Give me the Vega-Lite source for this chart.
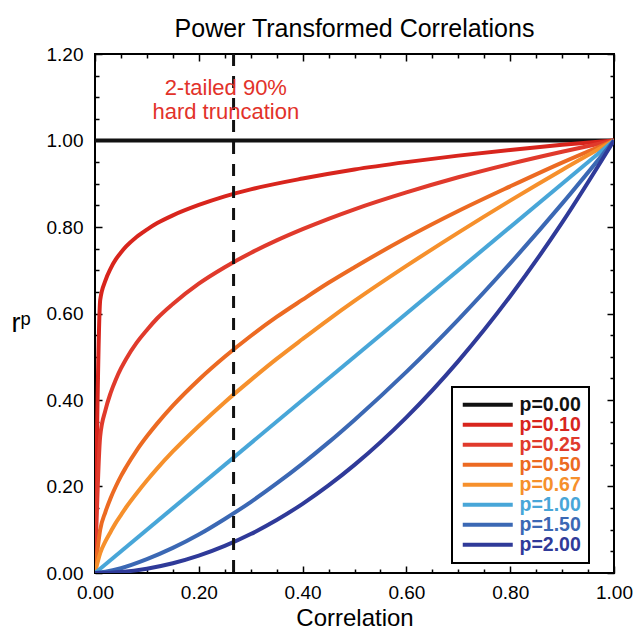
{
  "$schema": "https://vega.github.io/schema/vega-lite/v6.json",
  "width": 519,
  "height": 519,
  "autosize": "none",
  "padding": {"left": 95, "top": 54, "right": 19, "bottom": 61},
  "title": {"text": "Power Transformed Correlations", "fontSize": 25, "fontWeight": "normal", "offset": 3, "color": "black", "font": "Liberation Sans"},
  "config": {
    "font": "Liberation Sans",
    "view": {"stroke": "black", "strokeWidth": 2},
    "axis": {"grid": false, "domain": false, "labelFontSize": 19, "labelColor": "black", "tickColor": "black", "tickWidth": 1.5, "titleFontWeight": "normal", "titleColor": "black", "labelFont": "Liberation Sans", "titleFont": "Liberation Sans"}
  },
  "layer": [
    {
      "data": {"values": [
        {"p": "p=0.00", "r": 0, "v": 1}, {"p": "p=0.00", "r": 1, "v": 1},
        {"p": "p=0.10", "r": 0, "v": 0}, {"p": "p=0.10", "r": 0.01, "v": 0.631}, {"p": "p=0.10", "r": 0.02, "v": 0.676}, {"p": "p=0.10", "r": 0.03, "v": 0.704}, {"p": "p=0.10", "r": 0.04, "v": 0.725}, {"p": "p=0.10", "r": 0.05, "v": 0.741}, {"p": "p=0.10", "r": 0.06, "v": 0.755}, {"p": "p=0.10", "r": 0.08, "v": 0.777}, {"p": "p=0.10", "r": 0.1, "v": 0.794}, {"p": "p=0.10", "r": 0.12, "v": 0.809}, {"p": "p=0.10", "r": 0.15, "v": 0.827}, {"p": "p=0.10", "r": 0.2, "v": 0.851}, {"p": "p=0.10", "r": 0.25, "v": 0.871}, {"p": "p=0.10", "r": 0.3, "v": 0.887}, {"p": "p=0.10", "r": 0.4, "v": 0.912}, {"p": "p=0.10", "r": 0.5, "v": 0.933}, {"p": "p=0.10", "r": 0.6, "v": 0.950}, {"p": "p=0.10", "r": 0.7, "v": 0.965}, {"p": "p=0.10", "r": 0.8, "v": 0.978}, {"p": "p=0.10", "r": 0.9, "v": 0.990}, {"p": "p=0.10", "r": 1, "v": 1},
        {"p": "p=0.25", "r": 0, "v": 0}, {"p": "p=0.25", "r": 0.01, "v": 0.316}, {"p": "p=0.25", "r": 0.02, "v": 0.376}, {"p": "p=0.25", "r": 0.03, "v": 0.416}, {"p": "p=0.25", "r": 0.04, "v": 0.447}, {"p": "p=0.25", "r": 0.05, "v": 0.473}, {"p": "p=0.25", "r": 0.06, "v": 0.495}, {"p": "p=0.25", "r": 0.08, "v": 0.532}, {"p": "p=0.25", "r": 0.1, "v": 0.562}, {"p": "p=0.25", "r": 0.12, "v": 0.589}, {"p": "p=0.25", "r": 0.15, "v": 0.622}, {"p": "p=0.25", "r": 0.2, "v": 0.669}, {"p": "p=0.25", "r": 0.25, "v": 0.707}, {"p": "p=0.25", "r": 0.3, "v": 0.740}, {"p": "p=0.25", "r": 0.35, "v": 0.769}, {"p": "p=0.25", "r": 0.4, "v": 0.795}, {"p": "p=0.25", "r": 0.45, "v": 0.819}, {"p": "p=0.25", "r": 0.5, "v": 0.841}, {"p": "p=0.25", "r": 0.6, "v": 0.880}, {"p": "p=0.25", "r": 0.7, "v": 0.915}, {"p": "p=0.25", "r": 0.8, "v": 0.946}, {"p": "p=0.25", "r": 0.9, "v": 0.974}, {"p": "p=0.25", "r": 1, "v": 1},
        {"p": "p=0.50", "r": 0, "v": 0}, {"p": "p=0.50", "r": 0.01, "v": 0.1}, {"p": "p=0.50", "r": 0.02, "v": 0.141}, {"p": "p=0.50", "r": 0.03, "v": 0.173}, {"p": "p=0.50", "r": 0.04, "v": 0.2}, {"p": "p=0.50", "r": 0.05, "v": 0.224}, {"p": "p=0.50", "r": 0.06, "v": 0.245}, {"p": "p=0.50", "r": 0.08, "v": 0.283}, {"p": "p=0.50", "r": 0.1, "v": 0.316}, {"p": "p=0.50", "r": 0.12, "v": 0.346}, {"p": "p=0.50", "r": 0.15, "v": 0.387}, {"p": "p=0.50", "r": 0.2, "v": 0.447}, {"p": "p=0.50", "r": 0.25, "v": 0.5}, {"p": "p=0.50", "r": 0.3, "v": 0.548}, {"p": "p=0.50", "r": 0.35, "v": 0.592}, {"p": "p=0.50", "r": 0.4, "v": 0.632}, {"p": "p=0.50", "r": 0.45, "v": 0.671}, {"p": "p=0.50", "r": 0.5, "v": 0.707}, {"p": "p=0.50", "r": 0.6, "v": 0.775}, {"p": "p=0.50", "r": 0.7, "v": 0.837}, {"p": "p=0.50", "r": 0.8, "v": 0.894}, {"p": "p=0.50", "r": 0.9, "v": 0.949}, {"p": "p=0.50", "r": 1, "v": 1},
        {"p": "p=0.67", "r": 0, "v": 0}, {"p": "p=0.67", "r": 0.01, "v": 0.046}, {"p": "p=0.67", "r": 0.02, "v": 0.073}, {"p": "p=0.67", "r": 0.03, "v": 0.095}, {"p": "p=0.67", "r": 0.04, "v": 0.116}, {"p": "p=0.67", "r": 0.05, "v": 0.134}, {"p": "p=0.67", "r": 0.06, "v": 0.152}, {"p": "p=0.67", "r": 0.08, "v": 0.184}, {"p": "p=0.67", "r": 0.1, "v": 0.214}, {"p": "p=0.67", "r": 0.12, "v": 0.242}, {"p": "p=0.67", "r": 0.15, "v": 0.281}, {"p": "p=0.67", "r": 0.2, "v": 0.340}, {"p": "p=0.67", "r": 0.25, "v": 0.395}, {"p": "p=0.67", "r": 0.3, "v": 0.446}, {"p": "p=0.67", "r": 0.35, "v": 0.495}, {"p": "p=0.67", "r": 0.4, "v": 0.541}, {"p": "p=0.67", "r": 0.45, "v": 0.586}, {"p": "p=0.67", "r": 0.5, "v": 0.629}, {"p": "p=0.67", "r": 0.6, "v": 0.710}, {"p": "p=0.67", "r": 0.7, "v": 0.787}, {"p": "p=0.67", "r": 0.8, "v": 0.861}, {"p": "p=0.67", "r": 0.9, "v": 0.932}, {"p": "p=0.67", "r": 1, "v": 1},
        {"p": "p=1.00", "r": 0, "v": 0}, {"p": "p=1.00", "r": 1, "v": 1},
        {"p": "p=1.50", "r": 0, "v": 0}, {"p": "p=1.50", "r": 0.02, "v": 0.003}, {"p": "p=1.50", "r": 0.05, "v": 0.011}, {"p": "p=1.50", "r": 0.1, "v": 0.032}, {"p": "p=1.50", "r": 0.15, "v": 0.058}, {"p": "p=1.50", "r": 0.2, "v": 0.089}, {"p": "p=1.50", "r": 0.25, "v": 0.125}, {"p": "p=1.50", "r": 0.3, "v": 0.164}, {"p": "p=1.50", "r": 0.35, "v": 0.207}, {"p": "p=1.50", "r": 0.4, "v": 0.253}, {"p": "p=1.50", "r": 0.45, "v": 0.302}, {"p": "p=1.50", "r": 0.5, "v": 0.354}, {"p": "p=1.50", "r": 0.6, "v": 0.465}, {"p": "p=1.50", "r": 0.7, "v": 0.586}, {"p": "p=1.50", "r": 0.8, "v": 0.716}, {"p": "p=1.50", "r": 0.9, "v": 0.854}, {"p": "p=1.50", "r": 1, "v": 1},
        {"p": "p=2.00", "r": 0, "v": 0}, {"p": "p=2.00", "r": 0.05, "v": 0.0025}, {"p": "p=2.00", "r": 0.1, "v": 0.01}, {"p": "p=2.00", "r": 0.15, "v": 0.0225}, {"p": "p=2.00", "r": 0.2, "v": 0.04}, {"p": "p=2.00", "r": 0.25, "v": 0.0625}, {"p": "p=2.00", "r": 0.3, "v": 0.09}, {"p": "p=2.00", "r": 0.35, "v": 0.1225}, {"p": "p=2.00", "r": 0.4, "v": 0.16}, {"p": "p=2.00", "r": 0.45, "v": 0.2025}, {"p": "p=2.00", "r": 0.5, "v": 0.25}, {"p": "p=2.00", "r": 0.6, "v": 0.36}, {"p": "p=2.00", "r": 0.7, "v": 0.49}, {"p": "p=2.00", "r": 0.8, "v": 0.64}, {"p": "p=2.00", "r": 0.9, "v": 0.81}, {"p": "p=2.00", "r": 1, "v": 1}
      ]},
      "mark": {"type": "line", "strokeWidth": 4, "clip": true, "interpolate": "monotone"},
      "encoding": {
        "x": {"field": "r", "type": "quantitative", "scale": {"domain": [0, 1], "nice": false},
          "axis": {"orient": "bottom", "title": "Correlation", "titleFontSize": 24, "titlePadding": 1,
            "values": [0, 0.05, 0.1, 0.15, 0.2, 0.25, 0.3, 0.35, 0.4, 0.45, 0.5, 0.55, 0.6, 0.65, 0.7, 0.75, 0.8, 0.85, 0.9, 0.95, 1],
            "labelExpr": "round(datum.value*100) % 20 == 0 ? format(datum.value, '.2f') : ''",
            "tickSize": {"condition": {"test": "round(datum.value*100) % 20 == 0", "value": -7}, "value": -4},
            "labelPadding": 17, "labelFlush": false, "labelOverlap": false}},
        "y": {"field": "v", "type": "quantitative", "scale": {"domain": [0, 1.2], "nice": false},
          "axis": {"orient": "left", "title": "rᵖ", "titleAngle": 0, "titleFontSize": 27, "titleAlign": "left", "titleBaseline": "alphabetic", "titleX": -84, "titleY": 277,
            "values": [0, 0.05, 0.1, 0.15, 0.2, 0.25, 0.3, 0.35, 0.4, 0.45, 0.5, 0.55, 0.6, 0.65, 0.7, 0.75, 0.8, 0.85, 0.9, 0.95, 1, 1.05, 1.1, 1.15, 1.2],
            "labelExpr": "round(datum.value*100) % 20 == 0 ? format(datum.value, '.2f') : ''",
            "tickSize": {"condition": {"test": "round(datum.value*100) % 20 == 0", "value": -7}, "value": -4},
            "labelPadding": 19, "labelFlush": false, "labelOverlap": false}},
        "color": {"field": "p", "type": "nominal",
          "scale": {"domain": ["p=0.00", "p=0.10", "p=0.25", "p=0.50", "p=0.67", "p=1.00", "p=1.50", "p=2.00"],
            "range": ["#111111", "#d8251d", "#e03a2c", "#ec6a22", "#f6902c", "#48a6d8", "#3b68b4", "#2f3a99"]},
          "legend": {"orient": "none", "legendX": 357, "legendY": 333, "title": null,
            "symbolType": "M-1.4,0H8.6", "symbolSize": 100, "symbolStrokeWidth": 4,
            "labelFontSize": 19.5, "labelFontWeight": "bold", "labelFont": "Liberation Sans", "labelOffset": 40, "rowPadding": -2, "padding": 8,
            "strokeColor": "black", "fillColor": "white",
            "encode": {"labels": {"update": {"fill": {"scale": "color", "field": "value"}}}, "legend": {"update": {"strokeWidth": {"value": 2}}}}}}
      }
    },
    {
      "data": {"values": [{"r": 0.267}]},
      "mark": {"type": "rule", "strokeDash": [12, 10], "strokeWidth": 3, "color": "#111111"},
      "encoding": {
        "x": {"field": "r", "type": "quantitative", "scale": {"domain": [0, 1], "nice": false},
          "axis": {"orient": "top", "title": null, "labels": false,
            "values": [0, 0.05, 0.1, 0.15, 0.2, 0.25, 0.3, 0.35, 0.4, 0.45, 0.5, 0.55, 0.6, 0.65, 0.7, 0.75, 0.8, 0.85, 0.9, 0.95, 1],
            "tickSize": {"condition": {"test": "round(datum.value*100) % 20 == 0", "value": -7}, "value": -4}}}
      }
    },
    {
      "data": {"values": [{"r": 0.252, "v": 1.121, "t": "2-tailed 90%"}, {"r": 0.252, "v": 1.066, "t": "hard truncation"}]},
      "mark": {"type": "text", "fontSize": 22, "color": "#e2322a", "font": "Liberation Sans", "align": "center", "baseline": "middle"},
      "encoding": {
        "x": {"field": "r", "type": "quantitative", "scale": {"domain": [0, 1], "nice": false}, "axis": null},
        "y": {"field": "v", "type": "quantitative", "scale": {"domain": [0, 1.2], "nice": false},
          "axis": {"orient": "right", "title": null, "labels": false,
            "values": [0, 0.05, 0.1, 0.15, 0.2, 0.25, 0.3, 0.35, 0.4, 0.45, 0.5, 0.55, 0.6, 0.65, 0.7, 0.75, 0.8, 0.85, 0.9, 0.95, 1, 1.05, 1.1, 1.15, 1.2],
            "tickSize": {"condition": {"test": "round(datum.value*100) % 20 == 0", "value": -7}, "value": -4}}},
        "text": {"field": "t", "type": "nominal"}
      }
    }
  ],
  "resolve": {"axis": {"x": "independent", "y": "independent"}}
}
